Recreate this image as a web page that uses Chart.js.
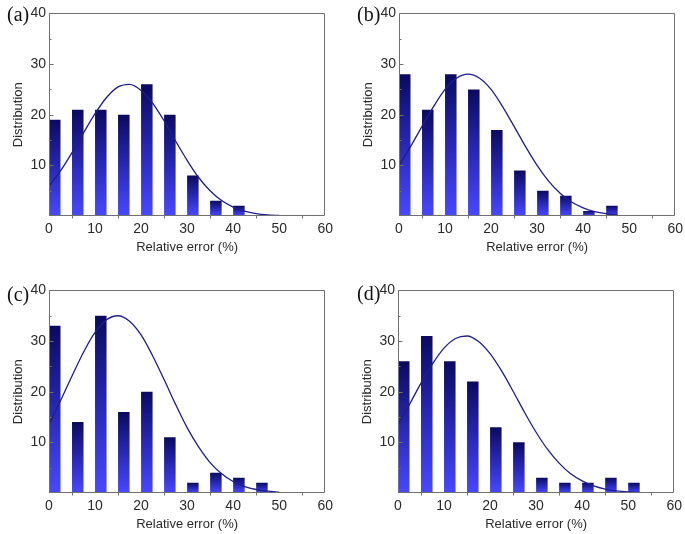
<!DOCTYPE html>
<html>
<head>
<meta charset="utf-8">
<script src="https://cdn.jsdelivr.net/npm/chart.js@4.4.1/dist/chart.umd.min.js"></script>
<style>
html,body{margin:0;padding:0;background:#fff;width:685px;height:534px;overflow:hidden;position:relative;}
canvas.panel{position:absolute;}
.lbl{position:absolute;font-family:"Liberation Serif","DejaVu Serif",serif;font-size:20px;line-height:22px;color:#111;}
</style>
</head>
<body>
<canvas id="ca" class="panel" width="338" height="254" style="left:0px;top:2px;"></canvas>
<canvas id="cb" class="panel" width="338" height="254" style="left:350px;top:2px;"></canvas>
<canvas id="cc" class="panel" width="338" height="254" style="left:0px;top:279px;"></canvas>
<canvas id="cd" class="panel" width="338" height="254" style="left:349px;top:279px;"></canvas>
<div class="lbl" style="left:7px;top:3px;">(a)</div>
<div class="lbl" style="left:357px;top:3px;">(b)</div>
<div class="lbl" style="left:7px;top:283px;">(c)</div>
<div class="lbl" style="left:357px;top:282px;">(d)</div>
<script>
// ---- data ----
const panelIds = ['ca', 'cb', 'cc', 'cd'];
const xTickValues = [0, 10, 20, 30, 40, 50, 60];
const yTickValues = [10, 20, 30, 40];
const xMinorTicks = [5, 15, 25, 35, 45, 55];
const yMinorTicks = [5, 15, 25, 35];
const xTitle = 'Relative error (%)';
const yTitle = 'Distribution';

// bin centres of the histogram bars (%)
const binCenters = [1.25, 6.25, 11.25, 16.25, 21.25, 26.25, 31.25, 36.25, 41.25, 46.25, 51.25];

// bar heights
const countsA = [19, 21, 21, 20, 26, 20, 8, 3, 2];
const countsB = [28, 21, 28, 25, 17, 9, 5, 4, 1, 2];
const countsC = [33, 14, 35, 16, 20, 11, 2, 4, 3, 2];
const countsD = [26, 31, 26, 22, 13, 10, 3, 2, 2, 3, 2];

// fitted-curve points
const curveX = [0, 2.5, 5, 7.5, 10, 12.5, 15, 17.5, 20, 22.5, 25, 27.5, 30, 32.5, 35, 37.5, 40, 42.5, 45, 47.5, 50, 52.5];
const curveA = [5.9, 8.9, 12.5, 16.4, 20.2, 23.4, 25.5, 26.0, 24.8, 22.3, 18.8, 14.8, 11.0, 7.6, 5.0, 3.05, 1.75, 0.94, 0.48, 0.23, 0.10];
const curveB = [10.0, 13.7, 17.7, 21.6, 25.0, 27.2, 28.0, 27.2, 25.0, 21.6, 17.7, 13.7, 10.0, 6.9, 4.5, 2.75, 1.6, 0.87, 0.45, 0.22];
const curveC = [13.6, 18.2, 23.1, 27.8, 31.7, 34.2, 35.0, 33.9, 31.2, 27.1, 22.4, 17.5, 12.9, 9.1, 6.0, 3.8, 2.27, 1.28, 0.69, 0.35, 0.17];
const curveD = [13.5, 17.5, 21.7, 25.5, 28.6, 30.5, 31.0, 29.9, 27.5, 24.1, 20.1, 15.9, 12.0, 8.6, 5.9, 3.8, 2.4, 1.4, 0.78, 0.42, 0.21, 0.10];

const panelCounts = [countsA, countsB, countsC, countsD];
const panelCurves = [curveA, curveB, curveC, curveD];

// ---- drawing ----
const frameTicksPlugin = {
  id: 'frameTicks',
  afterDatasetsDraw(chart) {
    const { ctx, chartArea: a, scales: { x, y } } = chart;
    ctx.save();
    ctx.strokeStyle = '#707070';
    ctx.lineWidth = 1;
    const L = Math.round(a.left) + 0.5, R = Math.round(a.right) - 0.5;
    const T = Math.round(a.top) + 0.5, B = Math.round(a.bottom) - 0.5;
    ctx.beginPath();
    ctx.rect(L, T, R - L, B - T);
    // y ticks (inward)
    yTickValues.forEach(v => { const p = Math.round(y.getPixelForValue(v)) + 0.5; ctx.moveTo(L, p); ctx.lineTo(L + 4, p); });
    yMinorTicks.forEach(v => { const p = Math.round(y.getPixelForValue(v)) + 0.5; ctx.moveTo(L, p); ctx.lineTo(L + 2, p); });
    // x minor ticks (outward)
    xMinorTicks.forEach(v => { const p = Math.round(x.getPixelForValue(v)) + 0.5; ctx.moveTo(p, B); ctx.lineTo(p, B + 3); });
    ctx.stroke();
    ctx.restore();
  }
};

function barGradient(context) {
  const chart = context.chart;
  if (context.type !== 'data' || !chart.chartArea) return '#2a2ab8';
  const ys = chart.scales.y;
  const top = ys.getPixelForValue(context.parsed.y);
  const base = ys.getPixelForValue(0);
  const g = chart.ctx.createLinearGradient(0, top, 0, base);
  g.addColorStop(0, '#0a0a60');
  g.addColorStop(0.5, '#2828b4');
  g.addColorStop(1, '#4848ff');
  return g;
}

const tickFont = { family: '"Liberation Sans", Arial, sans-serif', size: 14 };
const titleFont = { family: '"Liberation Sans", Arial, sans-serif', size: 13 };

panelIds.forEach((id, i) => {
  const counts = panelCounts[i];
  const curve = panelCurves[i];
  new Chart(document.getElementById(id), {
    type: 'bar',
    data: {
      datasets: [
        {
          type: 'line',
          data: curve.map((v, k) => ({ x: curveX[k], y: v })),
          borderColor: '#1e1e8c',
          borderWidth: 1.3,
          pointRadius: 0,
          fill: false,
          cubicInterpolationMode: 'monotone',
          order: 0
        },
        {
          type: 'bar',
          data: counts.map((v, k) => ({ x: binCenters[k], y: v })),
          backgroundColor: barGradient,
          borderWidth: 0,
          categoryPercentage: 1.0,
          barPercentage: 0.5,
          order: 1
        }
      ]
    },
    options: {
      responsive: false,
      animation: false,
      events: [],
      layout: { padding: { top: 10, right: 10, left: 0, bottom: 0 } },
      plugins: { legend: { display: false }, tooltip: { enabled: false } },
      scales: {
        x: {
          type: 'linear',
          offset: false,
          min: 0, max: 60,
          afterBuildTicks: s => { s.ticks = xTickValues.map(v => ({ value: v })); },
          afterFit: s => { s.height = 40; },
          grid: { display: false, drawTicks: false, offset: false },
          border: { display: false },
          ticks: { font: tickFont, color: '#2a2a2a', padding: 5, maxRotation: 0, autoSkip: false },
          title: { display: true, text: xTitle, font: titleFont, color: '#2a2a2a', padding: { top: 0, bottom: 1 } }
        },
        y: {
          type: 'linear',
          min: 0, max: 40,
          afterBuildTicks: s => { s.ticks = yTickValues.map(v => ({ value: v })); },
          afterFit: s => { s.width = 49; },
          grid: { display: false, drawTicks: false },
          border: { display: false },
          ticks: { font: tickFont, color: '#2a2a2a', padding: 3 },
          title: { display: true, text: yTitle, font: titleFont, color: '#2a2a2a', padding: { top: 11, bottom: 0 } }
        }
      }
    },
    plugins: [frameTicksPlugin]
  });
});
</script>
</body>
</html>
